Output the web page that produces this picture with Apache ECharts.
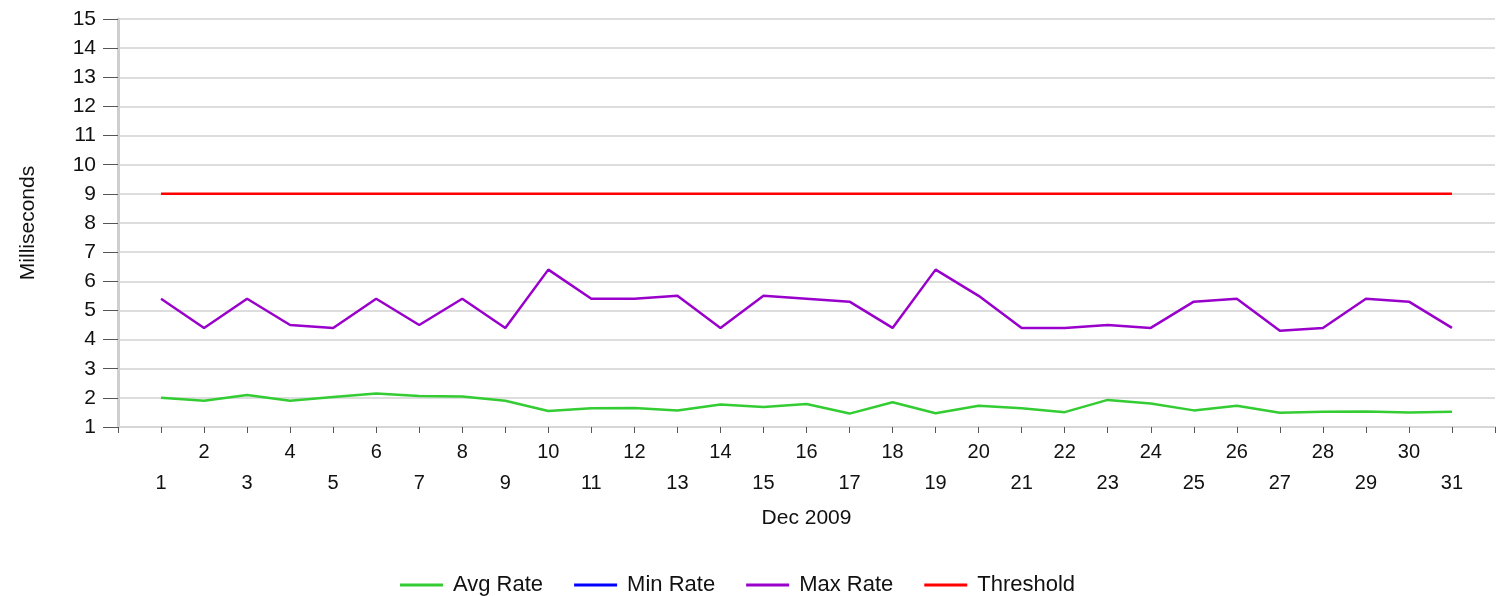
<!DOCTYPE html>
<html>
<head>
<meta charset="utf-8">
<script src="https://cdn.jsdelivr.net/npm/echarts@6/dist/echarts.min.js"></script>
<style>
  html, body { margin: 0; padding: 0; background: #fff; }
  #main { width: 1499px; height: 596px; }
</style>
</head>
<body>
<div id="main"></div>
<script>
// days of Dec 2009
const days = [1,2,3,4,5,6,7,8,9,10,11,12,13,14,15,16,17,18,19,20,21,22,23,24,25,26,27,28,29,30,31];
const avgRate = [2.0,1.9,2.1,1.9,2.03,2.15,2.06,2.05,1.9,1.55,1.64,1.65,1.57,1.77,1.69,1.79,1.46,1.85,1.47,1.73,1.64,1.51,1.93,1.81,1.57,1.73,1.49,1.52,1.53,1.5,1.52];
const minRate = [];
const maxRate = [5.4,4.4,5.4,4.5,4.4,5.4,4.5,5.4,4.4,6.4,5.4,5.4,5.5,4.4,5.5,5.4,5.3,4.4,6.4,5.5,4.4,4.4,4.5,4.4,5.3,5.4,4.3,4.4,5.4,5.3,4.4];
const threshold = days.map(() => 9);

const pairs = vals => vals.map((v, i) => [days[i], v]);

const chart = echarts.init(document.getElementById('main'));
const font = 'Liberation Sans, Arial, sans-serif';

function line(name, color, vals) {
  return {
    name: name,
    type: 'line',
    data: pairs(vals),
    showSymbol: false,
    symbol: 'none',
    lineStyle: { color: color, width: 2.5 },
    itemStyle: { color: color },
    animation: false
  };
}

chart.setOption({
  backgroundColor: '#fff',
  textStyle: { fontFamily: font },
  grid: { left: 118, right: 4, top: 19, bottom: 169 },
  legend: {
    top: 574,
    left: 400,
    padding: 0,
    icon: 'rect',
    itemWidth: 43,
    itemHeight: 3,
    itemGap: 31,
    textStyle: { fontSize: 22, color: '#111', fontFamily: font, padding: [0, 0, 0, 5] },
    data: ['Avg Rate', 'Min Rate', 'Max Rate', 'Threshold']
  },
  xAxis: {
    type: 'value',
    min: 0,
    max: 32,
    interval: 1,
    name: 'Dec 2009',
    nameLocation: 'middle',
    nameGap: 81,
    nameTextStyle: { fontSize: 21, color: '#111', fontFamily: font },
    axisLine: { show: true, lineStyle: { color: '#d6d6d6', width: 2 } },
    axisTick: { show: true, length: 6, lineStyle: { color: '#555', width: 1 } },
    splitLine: { show: false },
    axisLabel: {
      fontSize: 20,
      color: '#111',
      margin: 10,
      lineHeight: 31,
      showMinLabel: true,
      showMaxLabel: true,
      formatter: v => {
        if (v < 1 || v > 31) return '';
        return v % 2 === 0 ? v + '\n ' : ' \n' + v;
      }
    }
  },
  yAxis: {
    type: 'value',
    min: 1,
    max: 15,
    interval: 1,
    name: 'Milliseconds',
    nameLocation: 'middle',
    nameGap: 79,
    nameTextStyle: { fontSize: 21, color: '#111', fontFamily: font },
    axisLine: { show: true, lineStyle: { color: '#cfcfcf', width: 3 } },
    axisTick: { show: true, length: 15, lineStyle: { color: '#555', width: 1 } },
    splitLine: { lineStyle: { color: '#dddddd', width: 2 } },
    axisLabel: { fontSize: 21, color: '#111', margin: 22 }
  },
  series: [
    line('Avg Rate', '#33cc33', avgRate),
    line('Min Rate', '#0000ff', minRate),
    line('Max Rate', '#9900cc', maxRate),
    line('Threshold', '#ff0000', threshold)
  ]
});
</script>
</body>
</html>
